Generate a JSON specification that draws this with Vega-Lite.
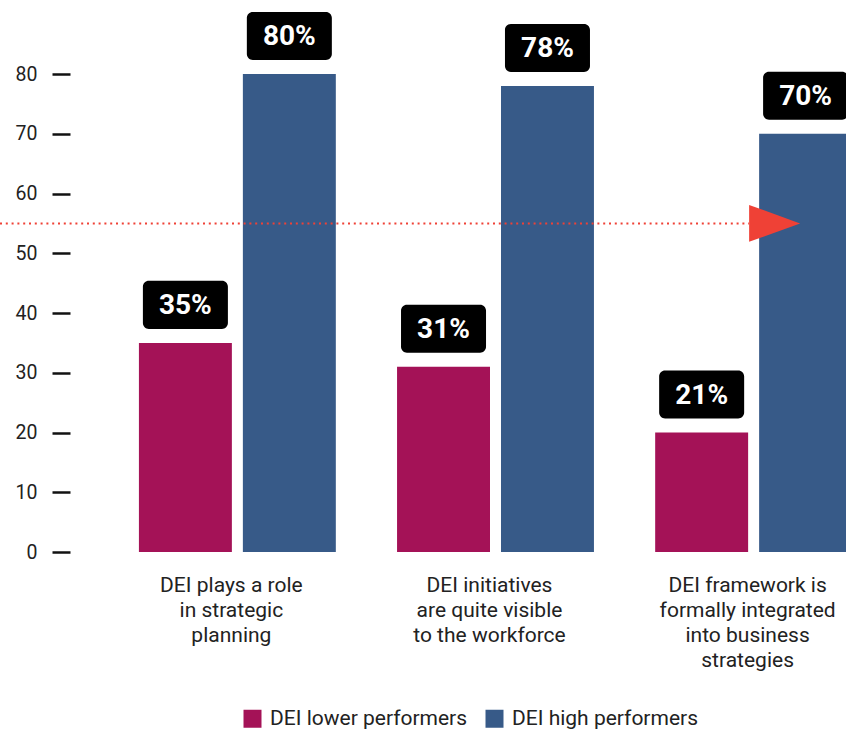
{
  "$schema": "https://vega.github.io/schema/vega-lite/v6.json",
  "autosize": {"type": "none"},
  "padding": {"left": 70, "top": 74, "right": 0, "bottom": 177},
  "width": 776,
  "height": 478,
  "background": "white",
  "config": {
    "view": {"stroke": null},
    "font": "Roboto"
  },
  "datasets": {
    "bars": [
      {"category": "DEI plays a role|in strategic|planning", "series": "DEI lower performers", "value": 35, "label": "35%"},
      {"category": "DEI plays a role|in strategic|planning", "series": "DEI high performers", "value": 80, "label": "80%"},
      {"category": "DEI initiatives|are quite visible|to the workforce", "series": "DEI lower performers", "value": 31, "label": "31%"},
      {"category": "DEI initiatives|are quite visible|to the workforce", "series": "DEI high performers", "value": 78, "label": "78%"},
      {"category": "DEI framework is|formally integrated|into business|strategies", "series": "DEI lower performers", "value": 20, "label": "21%"},
      {"category": "DEI framework is|formally integrated|into business|strategies", "series": "DEI high performers", "value": 70, "label": "70%"}
    ],
    "ref": [
      {"category": "DEI framework is|formally integrated|into business|strategies", "value": 55}
    ]
  },
  "layer": [
    {
      "data": {"name": "bars"},
      "mark": {"type": "bar"},
      "encoding": {
        "x": {
          "field": "category", "type": "nominal", "sort": null,
          "scale": {"range": [0, 851], "paddingInner": 0.2372, "paddingOuter": 0.267},
          "axis": {"title": null, "labelAngle": 0, "domain": false, "ticks": false, "labelPadding": 22,
                   "labelFontSize": 21, "labelLineHeight": 25.3, "labelColor": "#222222", "labelFont": "Roboto",
                   "labelExpr": "split(datum.label, '|')", "labelLimit": 300, "labelOffset": -6}
        },
        "xOffset": {
          "field": "series", "type": "nominal",
          "sort": ["DEI lower performers", "DEI high performers"],
          "scale": {"paddingInner": 0.1058, "paddingOuter": 0}
        },
        "y": {
          "field": "value", "type": "quantitative",
          "scale": {"domain": [0, 80], "nice": false},
          "axis": {"title": null, "grid": false, "domain": false, "tickSize": 18, "tickWidth": 2.5, "tickColor": "#111111",
                   "labelPadding": 15, "labelFontSize": 19.5, "labelColor": "#222222", "labelFont": "Roboto",
                   "values": [0, 10, 20, 30, 40, 50, 60, 70, 80]}
        },
        "color": {
          "field": "series", "type": "nominal",
          "sort": ["DEI lower performers", "DEI high performers"],
          "scale": {"domain": ["DEI lower performers", "DEI high performers"], "range": ["#a41257", "#375a88"]},
          "legend": {"title": null, "orient": "none", "legendX": 172, "legendY": 634, "direction": "horizontal", "symbolType": "square",
                     "symbolSize": 324, "symbolStrokeWidth": 0, "labelFontSize": 21, "labelFont": "Roboto",
                     "labelColor": "#222222", "columnPadding": 16, "labelOffset": 7, "labelLimit": 400, "padding": 0}
        }
      }
    },
    {
      "data": {"name": "bars"},
      "mark": {"type": "point", "filled": true, "color": "#000000", "opacity": 1, "strokeWidth": 0,
               "shape": "M-0.86,-0.565 H0.86 A0.14,0.14 0 0 1 1,-0.425 V0.425 A0.14,0.14 0 0 1 0.86,0.565 H-0.86 A0.14,0.14 0 0 1 -1,0.425 V-0.425 A0.14,0.14 0 0 1 -0.86,-0.565 Z",
               "size": 7225, "yOffset": -38},
      "encoding": {
        "x": {"field": "category", "type": "nominal", "sort": null},
        "xOffset": {"field": "series", "type": "nominal", "sort": ["DEI lower performers", "DEI high performers"]},
        "y": {"field": "value", "type": "quantitative"}
      }
    },
    {
      "data": {"name": "bars"},
      "mark": {"type": "text", "color": "white", "font": "Roboto", "fontWeight": "bold", "fontSize": 28,
               "baseline": "middle", "align": "center", "yOffset": -37},
      "encoding": {
        "x": {"field": "category", "type": "nominal", "sort": null},
        "xOffset": {"field": "series", "type": "nominal", "sort": ["DEI lower performers", "DEI high performers"]},
        "y": {"field": "value", "type": "quantitative"},
        "text": {"field": "label"}
      }
    },
    {
      "data": {"name": "ref"},
      "mark": {"type": "rule", "color": "#ef4136", "strokeWidth": 2, "strokeDash": [2, 3.8], "xOffset": -70, "x2Offset": -97},
      "encoding": {
        "x": {"value": 0},
        "x2": {"value": 776},
        "y": {"field": "value", "type": "quantitative"}
      }
    },
    {
      "data": {"name": "ref"},
      "mark": {"type": "point", "filled": true, "color": "#ef4136", "opacity": 1, "strokeWidth": 0,
               "shape": "M-1,-0.725 L1,0 L-1,0.725 Z", "size": 2601, "xOffset": 21},
      "encoding": {
        "x": {"field": "category", "type": "nominal", "sort": null},
        "y": {"field": "value", "type": "quantitative"}
      }
    }
  ]
}
